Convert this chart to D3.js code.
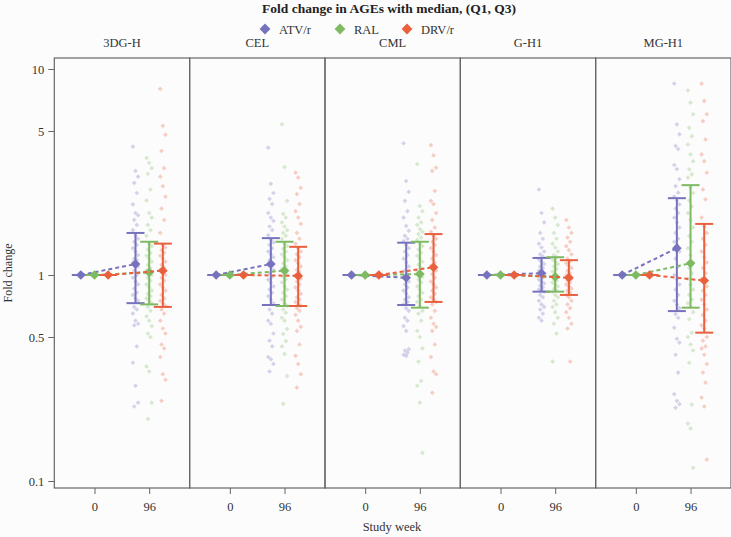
<!DOCTYPE html>
<html>
<head>
<meta charset="utf-8">
<script src="https://cdnjs.cloudflare.com/ajax/libs/d3/7.8.5/d3.min.js"></script>
<style>
  body { margin: 0; background: #fcfcfc; }
  svg { display: block; font-family: "Liberation Serif", "DejaVu Serif", serif; }
</style>
</head>
<body>
<div id="chart"></div>
<script>
// panels (AGEs), weeks, arms
var panels = ["3DG-H", "CEL", "CML", "G-H1", "MG-H1"];
var weeks = ["0", "96"];
var arms = ["ATV/r", "RAL", "DRV/r"];
var colors = ["#7772bd", "#7dba62", "#e8603e"];

// week 96 summary per panel (order as panels)
var medATV = [1.13, 1.13, 0.97, 1.02, 1.35];
var q1ATV  = [0.73, 0.715, 0.715, 0.83, 0.668];
var q3ATV  = [1.60, 1.51, 1.435, 1.21, 2.36];
var medRAL = [1.03, 1.05, 1.01, 0.98, 1.14];
var q1RAL  = [0.72, 0.707, 0.694, 0.83, 0.694];
var q3RAL  = [1.45, 1.45, 1.45, 1.22, 2.73];
var medDRV = [1.05, 0.99, 1.09, 0.97, 0.94];
var q1DRV  = [0.70, 0.707, 0.74, 0.80, 0.525];
var q3DRV  = [1.42, 1.37, 1.58, 1.18, 1.77];

// individual fold changes at week 96
var pts3DGH_ATV = [4.2,3.2,3.0,2.8,2.5,2.2,2.0,1.95,1.85,1.75,1.65,1.55,1.5,1.45,1.4,1.35,1.3,1.25,1.2,1.18,1.15,1.12,1.1,1.05,1.0,0.97,0.93,0.9,0.86,0.82,0.8,0.77,0.75,0.7,0.68,0.65,0.6,0.58,0.57,0.45,0.375,0.29,0.24,0.23];
var pts3DGH_RAL = [3.7,3.5,3.3,3.1,2.6,2.3,2.0,1.9,1.75,1.65,1.55,1.42,1.38,1.33,1.28,1.24,1.2,1.16,1.12,1.08,1.05,1.02,1.0,0.97,0.94,0.9,0.87,0.84,0.81,0.79,0.77,0.75,0.73,0.7,0.67,0.63,0.6,0.565,0.52,0.5,0.36,0.34,0.24,0.2];
var pts3DGH_DRV = [8.0,5.3,4.8,4.0,3.3,3.0,2.7,2.4,2.1,1.85,1.6,1.4,1.36,1.32,1.28,1.24,1.2,1.16,1.12,1.09,1.06,1.03,1.0,0.97,0.94,0.9,0.87,0.84,0.8,0.77,0.75,0.73,0.71,0.68,0.65,0.6,0.55,0.52,0.46,0.44,0.4,0.33,0.31,0.245];
var ptsCEL_ATV = [4.15,2.77,2.5,2.34,2.21,2.0,1.9,1.83,1.72,1.65,1.56,1.48,1.44,1.4,1.35,1.3,1.26,1.22,1.18,1.15,1.12,1.1,1.06,1.02,0.98,0.95,0.92,0.88,0.85,0.82,0.79,0.76,0.73,0.68,0.65,0.6,0.58,0.52,0.48,0.45,0.4,0.39,0.37,0.34];
var ptsCEL_RAL = [5.4,3.34,2.29,1.98,1.9,1.8,1.72,1.65,1.6,1.55,1.5,1.42,1.38,1.34,1.3,1.26,1.22,1.18,1.14,1.1,1.07,1.04,1.01,0.98,0.95,0.92,0.88,0.85,0.82,0.79,0.76,0.73,0.71,0.68,0.656,0.62,0.6,0.547,0.517,0.478,0.45,0.414,0.323,0.237];
var ptsCEL_DRV = [3.14,2.97,2.65,2.47,2.21,2.04,1.9,1.77,1.6,1.5,1.42,1.35,1.3,1.26,1.22,1.18,1.14,1.1,1.06,1.03,1.0,0.98,0.96,0.93,0.9,0.87,0.84,0.81,0.78,0.76,0.74,0.72,0.71,0.69,0.67,0.64,0.6,0.56,0.535,0.46,0.405,0.37,0.33,0.284];
var ptsCML_ATV = [4.36,2.86,2.53,2.29,2.04,1.9,1.73,1.64,1.55,1.5,1.46,1.4,1.35,1.3,1.25,1.2,1.15,1.1,1.05,1.01,0.98,0.96,0.93,0.9,0.87,0.84,0.81,0.78,0.76,0.74,0.72,0.69,0.67,0.62,0.6,0.565,0.535,0.437,0.43,0.42,0.41,0.405];
var ptsCML_RAL = [3.45,2.16,2.04,1.9,1.8,1.75,1.67,1.62,1.58,1.52,1.48,1.42,1.38,1.33,1.28,1.24,1.2,1.16,1.12,1.08,1.04,1.01,0.98,0.95,0.92,0.88,0.85,0.82,0.79,0.76,0.74,0.71,0.67,0.65,0.6,0.535,0.5,0.44,0.38,0.306,0.29,0.24,0.137];
var ptsCML_DRV = [4.27,3.81,3.32,3.2,2.56,2.29,2.21,2.0,1.85,1.7,1.62,1.55,1.5,1.45,1.4,1.35,1.3,1.25,1.2,1.15,1.11,1.08,1.05,1.01,0.97,0.93,0.9,0.87,0.84,0.81,0.78,0.76,0.74,0.72,0.67,0.62,0.58,0.56,0.535,0.46,0.4,0.34,0.33,0.268];
var ptsGH1_ATV = [2.6,2.0,1.8,1.6,1.5,1.42,1.36,1.3,1.26,1.23,1.19,1.16,1.13,1.1,1.08,1.05,1.03,1.01,0.99,0.97,0.95,0.93,0.91,0.89,0.87,0.85,0.84,0.83,0.8,0.78,0.75,0.72,0.7,0.68,0.65,0.62,0.6];
var ptsGH1_RAL = [2.1,1.9,1.75,1.6,1.5,1.42,1.36,1.3,1.25,1.22,1.19,1.16,1.13,1.1,1.07,1.04,1.01,0.98,0.96,0.94,0.92,0.9,0.88,0.86,0.84,0.83,0.8,0.78,0.75,0.72,0.7,0.66,0.62,0.58,0.52,0.38];
var ptsGH1_DRV = [1.85,1.7,1.6,1.52,1.45,1.38,1.32,1.26,1.2,1.17,1.14,1.11,1.08,1.05,1.02,1.0,0.98,0.96,0.94,0.92,0.9,0.88,0.86,0.84,0.82,0.8,0.78,0.75,0.72,0.69,0.66,0.62,0.58,0.55,0.38];
var ptsMGH1_ATV = [8.5,5.38,4.82,4.23,4.09,3.42,3.27,2.92,2.7,2.51,2.4,2.3,2.2,2.1,2.0,1.9,1.8,1.7,1.6,1.5,1.45,1.4,1.3,1.2,1.1,1.0,0.95,0.9,0.85,0.8,0.75,0.72,0.69,0.646,0.62,0.555,0.49,0.47,0.41,0.336,0.264,0.245,0.236,0.227];
var ptsMGH1_RAL = [7.87,6.86,6.03,5.18,4.72,4.3,3.85,3.57,3.26,3.08,2.97,2.65,2.5,2.3,2.15,2.0,1.85,1.7,1.55,1.45,1.35,1.25,1.15,1.08,1.02,0.96,0.9,0.85,0.8,0.76,0.73,0.7,0.66,0.61,0.525,0.5,0.46,0.43,0.375,0.235,0.19,0.18,0.116];
var ptsMGH1_DRV = [8.5,7.0,6.03,5.59,4.55,3.85,3.57,3.14,2.6,2.33,1.9,1.72,1.6,1.5,1.4,1.3,1.22,1.15,1.08,1.02,0.96,0.92,0.88,0.84,0.8,0.76,0.72,0.68,0.64,0.6,0.57,0.55,0.5,0.48,0.45,0.44,0.41,0.37,0.336,0.3,0.254,0.23,0.127];

var points = [
  [pts3DGH_ATV, pts3DGH_RAL, pts3DGH_DRV],
  [ptsCEL_ATV, ptsCEL_RAL, ptsCEL_DRV],
  [ptsCML_ATV, ptsCML_RAL, ptsCML_DRV],
  [ptsGH1_ATV, ptsGH1_RAL, ptsGH1_DRV],
  [ptsMGH1_ATV, ptsMGH1_RAL, ptsMGH1_DRV]
];
var meds = [medATV, medRAL, medDRV];
var q1s = [q1ATV, q1RAL, q1DRV];
var q3s = [q3ATV, q3RAL, q3DRV];

var W = 731, H = 537;
var svg = d3.select("#chart").append("svg")
    .attr("width", W).attr("height", H);
svg.append("rect").attr("width", W).attr("height", H).attr("fill", "#fcfcfc");

var plotTop = 58, plotBottom = 488, plotLeft = 54.3, plotRight = 731;
var px = d3.scaleBand().domain(panels).range([plotLeft, plotRight]).padding(0);
var pw = px.bandwidth();
// weeks 0/96 at positions 1/2 of a discrete axis
var x = d3.scaleLinear().domain([0.265, 2.74]).range([0, pw]);
var dodge = d3.scaleOrdinal().domain(arms).range([-0.25, 0, 0.25]);
var y = d3.scaleLog().domain([0.1, 10]).range([481, 69]);
var diamond = d3.symbol().type(d3.symbolDiamond2);

// title and legend
svg.append("text").attr("x", 389).attr("y", 13).attr("text-anchor", "middle")
    .attr("font-weight", "bold").attr("font-size", 13.5).attr("fill", "#222")
    .text("Fold change in AGEs with median, (Q1, Q3)");
var legX = [265, 340, 407];
arms.forEach(function(a, i) {
    svg.append("path").attr("d", diamond.size(75)())
        .attr("transform", "translate(" + legX[i] + ",29)").attr("fill", colors[i]);
    svg.append("text").attr("x", legX[i] + 14).attr("y", 33.5)
        .attr("font-size", 12.5).attr("fill", "#333").text(a);
});

// y axis
var yAxis = d3.axisLeft(y).tickValues([0.1, 0.5, 1, 5, 10])
    .tickFormat(d3.format("~g")).tickSize(6).tickPadding(4);
var ga = svg.append("g").attr("transform", "translate(" + plotLeft + ",0)").call(yAxis);
ga.select(".domain").remove();
ga.selectAll("line").attr("stroke", "#666");
ga.selectAll("text").attr("font-size", 12.5).attr("fill", "#333")
    .attr("font-family", "Liberation Serif, serif");
svg.append("text").attr("transform", "translate(12," + (plotTop + plotBottom) / 2 + ") rotate(-90)")
    .attr("text-anchor", "middle").attr("font-size", 12).attr("fill", "#333").text("Fold change");
svg.append("text").attr("x", 392).attr("y", 531).attr("text-anchor", "middle")
    .attr("font-size", 12.5).attr("fill", "#333").text("Study week");

panels.forEach(function(p, pi) {
    var g = svg.append("g").attr("transform", "translate(" + px(p) + ",0)");
    g.append("text").attr("x", pw / 2).attr("y", 47).attr("text-anchor", "middle")
        .attr("font-size", 12.5).attr("fill", "#333").text(p);

    var xAxis = d3.axisBottom(x).tickValues([1, 2])
        .tickFormat(function(d) { return weeks[d - 1]; }).tickSize(6).tickPadding(8);
    var gx = g.append("g").attr("transform", "translate(0," + plotBottom + ")").call(xAxis);
    gx.select(".domain").remove();
    gx.selectAll("line").attr("stroke", "#666");
    gx.selectAll("text").attr("font-size", 12.5).attr("fill", "#333")
        .attr("font-family", "Liberation Serif, serif");

    // jittered individual values
    arms.forEach(function(a, ai) {
        var cx = x(2 + dodge(a));
        g.append("g").selectAll("path").data(points[pi][ai]).join("path")
            .attr("d", diamond.size(14)())
            .attr("transform", function(d, i) {
                var j = ((i * 7) % 5 - 2) * 1.3;
                return "translate(" + (cx + j) + "," + y(d) + ")";
            })
            .attr("fill", colors[ai]).attr("fill-opacity", 0.3);
    });

    arms.forEach(function(a, ai) {
        var x0 = x(1 + dodge(a)), x1 = x(2 + dodge(a));
        var med = meds[ai][pi], lo = q1s[ai][pi], hi = q3s[ai][pi];
        g.append("line").attr("x1", x0).attr("x2", x1).attr("y1", y(1)).attr("y2", y(med))
            .attr("stroke", colors[ai]).attr("stroke-width", 2).attr("stroke-dasharray", "4,3");
        // week 0 cap (Q1 = Q3 = 1)
        g.append("line").attr("x1", x0 - 9).attr("x2", x0 + 9).attr("y1", y(1)).attr("y2", y(1))
            .attr("stroke", colors[ai]).attr("stroke-width", 2);
        // week 96 error bar
        g.append("line").attr("x1", x1).attr("x2", x1).attr("y1", y(lo)).attr("y2", y(hi))
            .attr("stroke", colors[ai]).attr("stroke-width", 2);
        [lo, hi].forEach(function(v) {
            g.append("line").attr("x1", x1 - 9).attr("x2", x1 + 9).attr("y1", y(v)).attr("y2", y(v))
                .attr("stroke", colors[ai]).attr("stroke-width", 2);
        });
        g.append("path").attr("d", diamond.size(60)())
            .attr("transform", "translate(" + x0 + "," + y(1) + ")").attr("fill", colors[ai]);
        g.append("path").attr("d", diamond.size(60)())
            .attr("transform", "translate(" + x1 + "," + y(med) + ")").attr("fill", colors[ai]);
    });

    g.append("rect").attr("x", 0).attr("y", plotTop).attr("width", pw).attr("height", plotBottom - plotTop)
        .attr("fill", "none").attr("stroke", "#666").attr("stroke-width", 1.2);
});
</script>
</body>
</html>
